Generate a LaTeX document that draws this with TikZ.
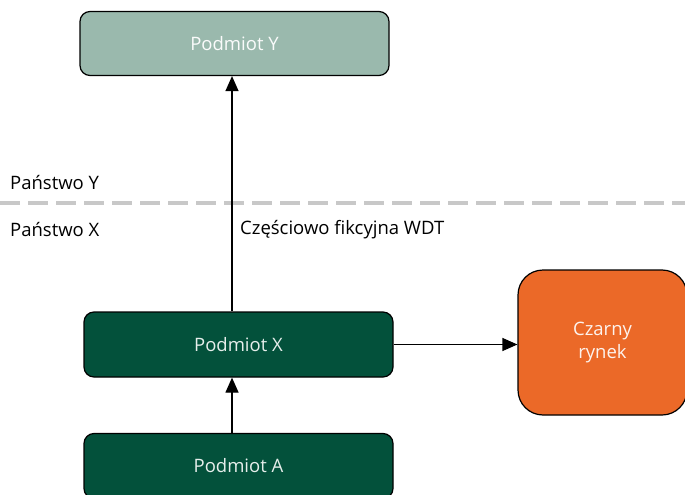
\documentclass[tikz,border=0pt]{standalone}
\usepackage{fontspec}
\setmainfont{Open Sans}
\usepackage{tikz}
\usetikzlibrary{arrows.meta,positioning}

\definecolor{lightgreen}{HTML}{9AB9AD}
\definecolor{darkgreen}{HTML}{03513B}
\definecolor{market}{HTML}{EB6928}
\definecolor{border}{HTML}{C8C8C8}

\begin{document}
\begin{tikzpicture}[x=1pt,y=-1pt,font=\fontsize{18.5}{23}\selectfont,
  entity/.style={draw=black,line width=1.2pt,rounded corners=10pt,
    minimum width=309pt,minimum height=64pt,text=white!90!darkgreen},
  flow/.style={-{Triangle[width=13pt,length=15pt]},line width=1.2pt},
  label/.style={anchor=west,inner sep=0pt}]

  \useasboundingbox (0,0) rectangle (685,495);

  \node[entity,fill=lightgreen,text=white!95!lightgreen] (podY) at (234.5,43.5) {Podmiot Y};
  \node[entity,fill=darkgreen,minimum height=65pt] (podX) at (238.5,344.5) {Podmiot X};
  \node[entity,fill=darkgreen,minimum height=65pt] (podA) at (238.5,466) {Podmiot A};
  \node[draw=black,line width=1.2pt,rounded corners=25pt,fill=market,
    minimum width=169pt,minimum height=145pt,align=center,text=white!92!market]
    (rynek) at (602.5,342.5) {Czarny\\rynek};

  % granica
  \coordinate (left) at (0,203);
  \coordinate (right) at (685,203);
  \draw[border,line width=4pt,dash pattern=on 20pt off 8pt] (left) -- (right);

  \node[label] (panY) at (10,183) {Państwo Y};
  \node[label] (panX) at (10,230) {Państwo X};

  \coordinate (axis) at (232,0);
  \draw[flow] (podX.north -| axis) -- (podY.south -| axis);
  \draw[flow] (podA.north -| axis) -- (podX.south -| axis);
  \draw[flow] (podX.east) -- (rynek.west |- podX.east);

  \node[label] (wdt) at (240,230) {Częściowo fikcyjna WDT};
\end{tikzpicture}
\end{document}
